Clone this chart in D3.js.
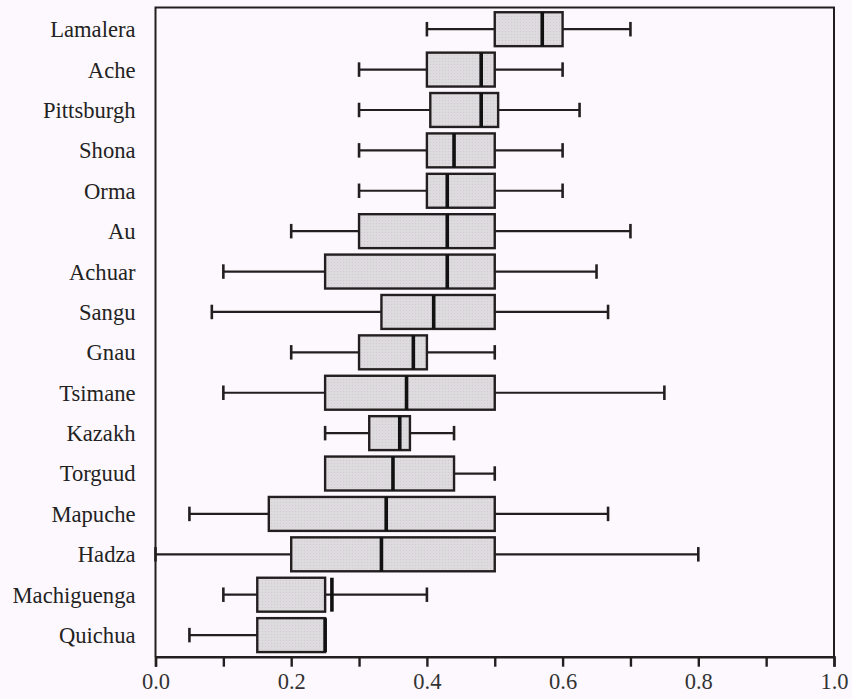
<!DOCTYPE html>
<html>
<head>
<meta charset="utf-8">
<script src="https://cdn.jsdelivr.net/npm/d3@7"></script>
<style>
  html, body { margin: 0; padding: 0; background: #fdf8fd; }
  svg { display: block; }
</style>
</head>
<body>
<svg id="chart" width="852" height="699"></svg>
<script>
// ---- data ----
const categories = ["Lamalera","Ache","Pittsburgh","Shona","Orma","Au","Achuar","Sangu","Gnau","Tsimane","Kazakh","Torguud","Mapuche","Hadza","Machiguenga","Quichua"];
const whiskerLow  = [0.40, 0.30, 0.30,  0.30, 0.30, 0.20, 0.10, 0.083, 0.20, 0.10, 0.25,  0.25, 0.05,  0.00,  0.10, 0.05];
const q1          = [0.50, 0.40, 0.405, 0.40, 0.40, 0.30, 0.25, 0.333, 0.30, 0.25, 0.315, 0.25, 0.167, 0.20,  0.15, 0.15];
const median      = [0.57, 0.48, 0.48,  0.44, 0.43, 0.43, 0.43, 0.41,  0.38, 0.37, 0.36,  0.35, 0.34,  0.333, 0.26, 0.25];
const q3          = [0.60, 0.50, 0.505, 0.50, 0.50, 0.50, 0.50, 0.50,  0.40, 0.50, 0.375, 0.44, 0.50,  0.50,  0.25, 0.25];
const whiskerHigh = [0.70, 0.60, 0.625, 0.60, 0.60, 0.70, 0.65, 0.667, 0.50, 0.75, 0.44,  0.50, 0.667, 0.80,  0.40, 0.25];
const tickValues  = [0,0.1,0.2,0.3,0.4,0.5,0.6,0.7,0.8,0.9,1.0];
const labeledTicks = [0,0.2,0.4,0.6,0.8,1.0];

const rows = categories.map((c,i) => ({name:c, lo:whiskerLow[i], q1:q1[i], med:median[i], q3:q3[i], hi:whiskerHigh[i]}));

// ---- layout ----
const svg = d3.select("#chart");
const L = 155.5, R = 834, T = 7.5, B = 656.7;
const ink = "#231f20";
const fontCss = '"Liberation Serif"';

svg.append("rect").attr("width",852).attr("height",699).attr("fill","#fdf8fd");

// dotted fill pattern
const defs = svg.append("defs");
const pat = defs.append("pattern").attr("id","dots").attr("width",3).attr("height",3).attr("patternUnits","userSpaceOnUse");
pat.append("rect").attr("width",3).attr("height",3).attr("fill","#dedbdf");
pat.append("rect").attr("x",1).attr("y",1).attr("width",1).attr("height",1).attr("fill","#cfcbd0");

const x = d3.scaleLinear().domain([0,1]).range([L,R]);
const y = d3.scalePoint().domain(categories).range([9, 655.3]).padding(0.5);
const step = y.step();
const boxH = step*0.84;
const capH = 14.5;

const g = svg.append("g");

// whiskers
rows.forEach(d => {
  const cy = y(d.name);
  if (d.lo < d.q1) {
    g.append("line").attr("x1",x(d.lo)).attr("x2",x(d.q1)).attr("y1",cy).attr("y2",cy)
      .attr("stroke",ink).attr("stroke-width",2.2);
    g.append("line").attr("x1",x(d.lo)).attr("x2",x(d.lo)).attr("y1",cy-capH/2).attr("y2",cy+capH/2)
      .attr("stroke",ink).attr("stroke-width",2.6);
  }
  if (d.hi > d.q3) {
    g.append("line").attr("x1",x(d.q3)).attr("x2",x(d.hi)).attr("y1",cy).attr("y2",cy)
      .attr("stroke",ink).attr("stroke-width",2.2);
    g.append("line").attr("x1",x(d.hi)).attr("x2",x(d.hi)).attr("y1",cy-capH/2).attr("y2",cy+capH/2)
      .attr("stroke",ink).attr("stroke-width",2.6);
  }
});

// boxes
g.selectAll("rect.box").data(rows).join("rect").attr("class","box")
  .attr("x", d => x(d.q1)).attr("width", d => x(d.q3)-x(d.q1))
  .attr("y", d => y(d.name)-boxH/2).attr("height", boxH)
  .attr("fill","url(#dots)").attr("stroke",ink).attr("stroke-width",2.4);

// medians
g.selectAll("line.med").data(rows).join("line").attr("class","med")
  .attr("x1", d => x(d.med)).attr("x2", d => x(d.med))
  .attr("y1", d => y(d.name)-boxH/2).attr("y2", d => y(d.name)+boxH/2)
  .attr("stroke","#111").attr("stroke-width",3.6);

// frame (top, right, left)
svg.append("path").attr("d",`M${L},${B}V${T}H${R}V${B}`).attr("fill","none").attr("stroke",ink).attr("stroke-width",2);

// x axis
const xAxis = d3.axisBottom(x).tickValues(tickValues).tickSize(10).tickPadding(6)
  .tickFormat(v => labeledTicks.some(t => Math.abs(t-v)<1e-9) ? d3.format(".1f")(v) : "");
const ax = svg.append("g").attr("transform",`translate(0,${B})`).call(xAxis);
ax.attr("font-family", null);
ax.select(".domain").attr("stroke",ink).attr("stroke-width",2.4);
ax.selectAll(".tick line").attr("stroke",ink).attr("stroke-width",2.4);
ax.selectAll(".tick text").style("font-family",fontCss).attr("font-size",22.5).attr("fill","#333");

// category labels
const yAxis = d3.axisLeft(y).tickSize(0).tickPadding(L-135.5);
const ay = svg.append("g").attr("transform",`translate(${L},0)`).call(yAxis);
ay.attr("font-family", null);
ay.select(".domain").remove();
ay.selectAll(".tick text").style("font-family",fontCss).attr("font-size",22.6).attr("fill","#222").attr("dy","0.33em");
</script>
</body>
</html>
